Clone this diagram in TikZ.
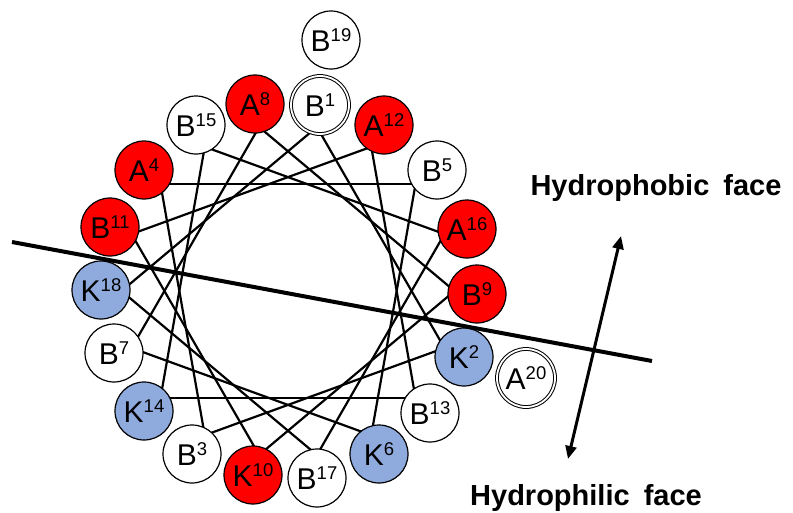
\documentclass[tikz,border=0pt]{standalone}
\usepackage{fontspec}
\setmainfont{Liberation Sans}
\usetikzlibrary{arrows.meta}
\definecolor{resred}{HTML}{FF0000}
\definecolor{resblue}{HTML}{8FAADC}
\newcommand{\resl}[2]{{\fontsize{30}{30}\selectfont #1}\raisebox{10pt}{\fontsize{18.5}{18.5}\selectfont #2}}
\begin{document}
\begin{tikzpicture}[x=1pt,y=-1pt,
  res/.style={circle,draw=black,line width=1.2pt,minimum size=58pt,inner sep=0pt,fill=white},
  redres/.style={res,fill=resred},
  blueres/.style={res,fill=resblue},
  dblres/.style={res,line width=1pt,double=white,double distance=1.8pt},
  chord/.style={line width=2.2pt,line cap=round},
  divider/.style={line width=4pt},
  facearrow/.style={line width=3pt,{Triangle[length=13pt,width=11pt]}-{Triangle[length=13pt,width=11pt]}},
  facelabel/.style={anchor=base,inner sep=0pt,font=\fontsize{29}{29}\selectfont\bfseries}]
\useasboundingbox (0,0) rectangle (793,512);
% helical wheel positions
\foreach \n in {1,...,18}
  \coordinate (p\n) at ({288+166.5*sin(10+100*(\n-1))},{291-166.5*cos(10+100*(\n-1))});
\foreach \n [evaluate=\n as \m using {int(mod(\n,18)+1)}] in {1,...,18}
  \draw[chord] (p\n) -- (p\m);
% residues
\node[dblres]  (r1)  at (320,105) {\resl{B}{1}};
\node[blueres] (r2)  at (464,357) {\resl{K}{2}};
\node[res]     (r3)  at (192,454) {\resl{B}{3}};
\node[redres]  (r4)  at (144,170) {\resl{A}{4}};
\node[res]     (r5)  at (437,170) {\resl{B}{5}};
\node[blueres] (r6)  at (379,454) {\resl{K}{6}};
\node[res]     (r7)  at (114,353) {\resl{B}{7}};
\node[redres]  (r8)  at (255,104) {\resl{A}{8}};
\node[redres]  (r9)  at (477,294) {\resl{B}{9}};
\node[redres]  (r10) at (253,475) {\resl{K}{10}};
\node[redres]  (r11) at (110,227) {\resl{B}{11}};
\node[redres]  (r12) at (384,125) {\resl{A}{12}};
\node[res]     (r13) at (430,413) {\resl{B}{13}};
\node[blueres] (r14) at (144,411) {\resl{K}{14}};
\node[res]     (r15) at (196,125) {\resl{B}{15}};
\node[redres]  (r16) at (467,229) {\resl{A}{16}};
\node[res]     (r17) at (317,478) {\resl{B}{17}};
\node[blueres] (r18) at (101,290) {\resl{K}{18}};
\node[res]     (r19) at (331,40)  {\resl{B}{19}};
\node[dblres]  (r20) at (526,378) {\resl{A}{20}};
% dividing line and arrow
\coordinate (d1) at (12,242);
\coordinate (d2) at (652,361);
\draw[divider] (d1) -- (d2);
\coordinate (a1) at (568,459);
\coordinate (a2) at (621,236);
\draw[facearrow] (a1) -- (a2);
% labels
\node[facelabel] (phob) at (656,195) {Hydrophobic\hspace{6pt} face};
\node[facelabel] (phil) at (586,505) {Hydrophilic\hspace{6pt} face};
\end{tikzpicture}
\end{document}
